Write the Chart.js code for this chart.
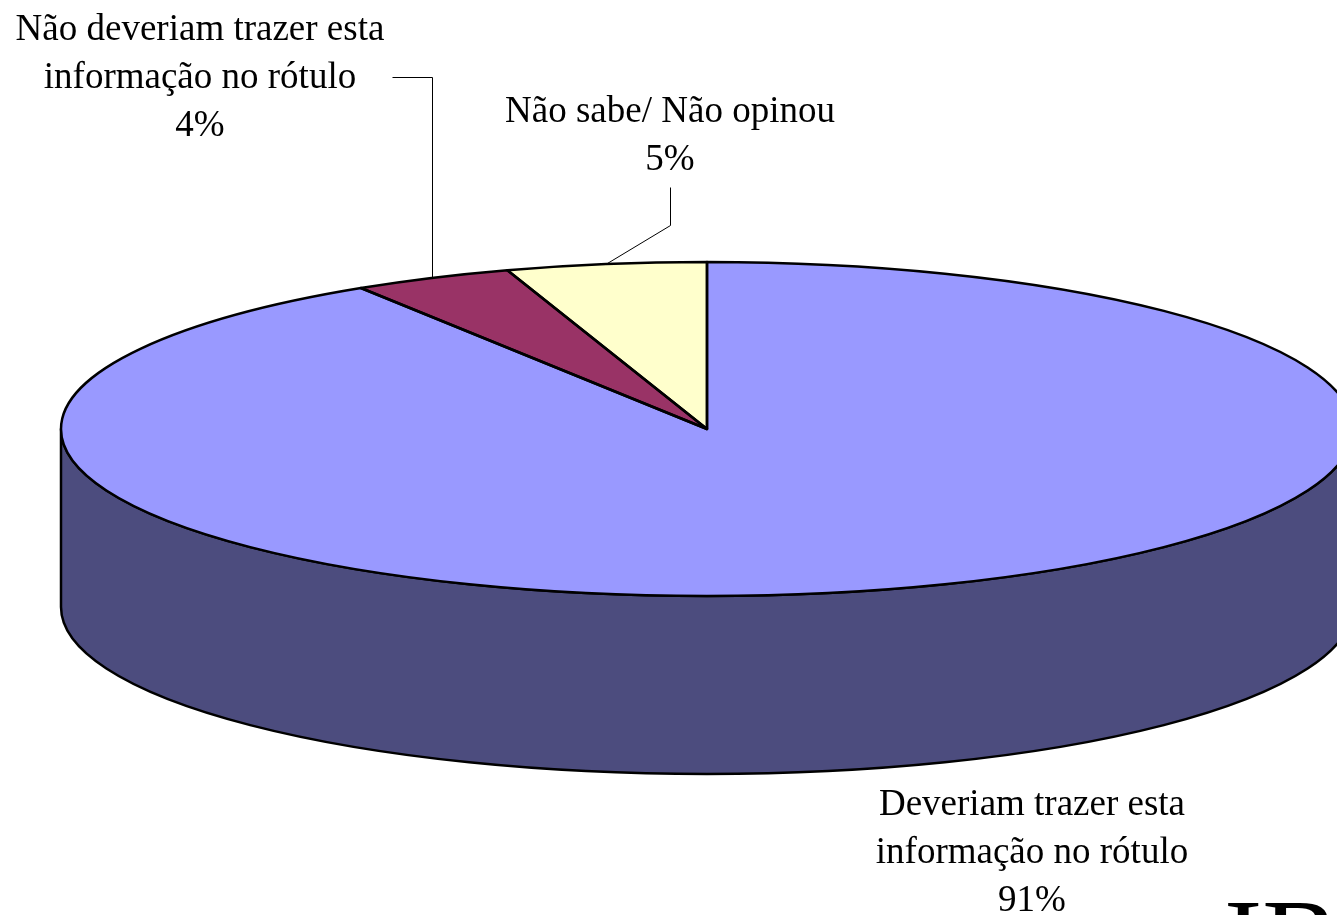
<!DOCTYPE html>
<html>
<head>
<meta charset="utf-8">
<script src="https://cdn.jsdelivr.net/npm/chart.js@4"></script>
<style>
  body { margin: 0; background: #fff; }
  #wrap { width: 1337px; height: 915px; position: relative; overflow: hidden; }
</style>
</head>
<body>
<div id="wrap"><canvas id="pieChart"></canvas></div>
<script>
// dados (ordem: sentido horario a partir do topo)
const categories = [
  ['Deveriam trazer esta', 'informação no rótulo'],
  ['Não deveriam trazer esta', 'informação no rótulo'],
  ['Não sabe/ Não opinou'],
];
const percentages = [91, 4, 5];

// estilos
const topColors = ['#9999FF', '#993366', '#FFFFCC'];
const sideColors = ['#4C4C7E', '#4C1933', '#808066'];

// geometria do "pie 3d"
const CX = 707, CY = 429, RX = 646, RY = 167, DEPTH = 178;
const LABEL_FONT = '37px "Liberation Serif", "Times New Roman", serif';
const LINE_H = 48;
// centro x, baseline da primeira linha, e cotovelos da linha guia
const labelPos = [
  { x: 1032, y: 815, leader: null },
  { x: 200, y: 40, leader: (m) => [[m.x, 77], [392, 77]] },
  { x: 670, y: 122, leader: (m) => [[670, 225], [670, 187]] },
];

function midPoint(arc) {
  const a = (arc.startAngle + arc.endAngle) / 2;
  return { x: CX + RX * Math.cos(a), y: CY + RY * Math.sin(a) };
}

const px = (v) => Math.round(v) + 0.5;

const pie3d = {
  id: 'pie3d',
  beforeDatasetsDraw(chart) {
    const ctx = chart.ctx;
    const arcs = chart.getDatasetMeta(0).data;

    // lateral (so a metade da frente aparece)
    ctx.save();
    ctx.lineWidth = 2.5;
    ctx.strokeStyle = '#000';
    ctx.lineJoin = 'round';
    arcs.forEach((arc, i) => {
      for (let k = -1; k <= 2; k++) {
        const a = Math.max(arc.startAngle, 2 * Math.PI * k);
        const b = Math.min(arc.endAngle, 2 * Math.PI * k + Math.PI);
        if (b <= a) continue;
        ctx.beginPath();
        ctx.ellipse(CX, CY, RX, RY, 0, a, b);
        ctx.ellipse(CX, CY + DEPTH, RX, RY, 0, b, a, true);
        ctx.closePath();
        ctx.fillStyle = sideColors[i];
        ctx.fill();
        ctx.stroke();
      }
    });
    ctx.restore();

    // achata o pie do Chart.js numa elipse
    const arc = arcs[0];
    const r = arc.outerRadius;
    ctx.save();
    ctx.translate(CX, CY);
    ctx.scale(RX / r, RY / r);
    ctx.translate(-arc.x, -arc.y);
  },
  afterDatasetsDraw(chart) {
    const ctx = chart.ctx;
    ctx.restore();
    const arcs = chart.getDatasetMeta(0).data;

    // contornos das fatias
    ctx.save();
    ctx.lineWidth = 2.5;
    ctx.strokeStyle = '#000';
    ctx.lineJoin = 'round';
    arcs.forEach((arc) => {
      ctx.beginPath();
      ctx.moveTo(CX, CY);
      ctx.ellipse(CX, CY, RX, RY, 0, arc.startAngle, arc.endAngle);
      ctx.closePath();
      ctx.stroke();
    });
    ctx.restore();

    // rotulos e linhas guia
    ctx.save();
    ctx.font = LABEL_FONT;
    ctx.fillStyle = '#000';
    ctx.textAlign = 'center';
    ctx.textBaseline = 'alphabetic';
    arcs.forEach((arc, i) => {
      const pos = labelPos[i];
      const lines = categories[i].concat([percentages[i] + '%']);
      lines.forEach((t, j) => ctx.fillText(t, pos.x, pos.y + j * LINE_H));
      if (pos.leader) {
        const m = midPoint(arc);
        m.x = Math.round(m.x);
        ctx.beginPath();
        ctx.moveTo(m.x + 0.5, m.y);
        pos.leader(m).forEach((p) => ctx.lineTo(px(p[0]), px(p[1])));
        ctx.lineWidth = 1;
        ctx.strokeStyle = '#000';
        ctx.stroke();
      }
    });

    // marca cortada no canto
    ctx.font = '115px "Liberation Serif", "Times New Roman", serif';
    ctx.textAlign = 'left';
    ctx.fillText('IBOPE', 1224, 978);
    ctx.restore();
  },
};

new Chart(document.getElementById('pieChart'), {
  type: 'pie',
  data: {
    labels: categories,
    datasets: [{
      data: percentages,
      backgroundColor: topColors,
      borderWidth: 0,
      clip: false,
    }],
  },
  options: {
    responsive: true,
    maintainAspectRatio: false,
    animation: false,
    events: [],
    plugins: {
      legend: { display: false },
      tooltip: { enabled: false },
    },
  },
  plugins: [pie3d],
});
</script>
</body>
</html>
